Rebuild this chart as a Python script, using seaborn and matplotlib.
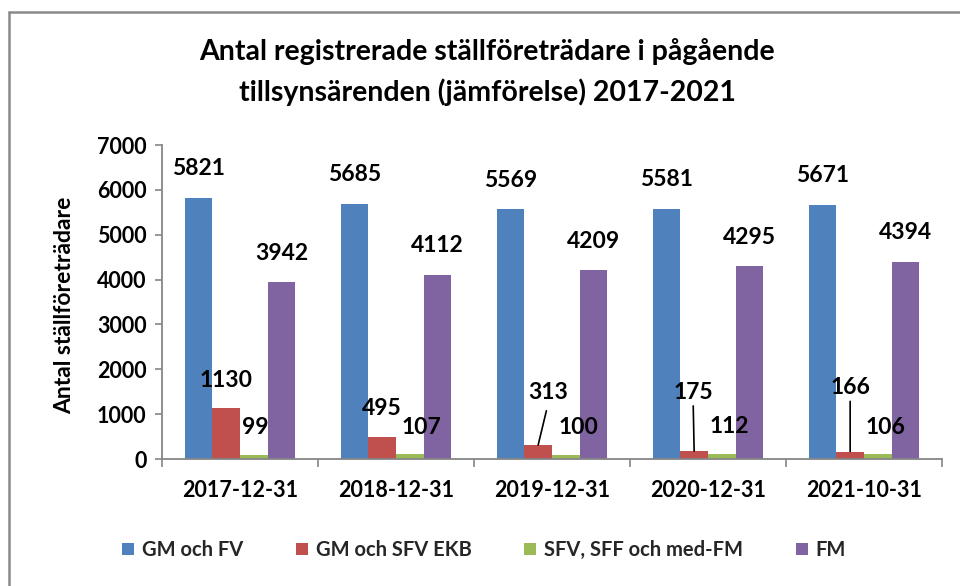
import numpy as np
import pandas as pd
import seaborn as sns
import matplotlib.pyplot as plt
from matplotlib.lines import Line2D
from matplotlib.patches import Patch

# ---- data ----
dates = ["2017-12-31", "2018-12-31", "2019-12-31", "2020-12-31", "2021-10-31"]
series = ["GM och FV", "GM och SFV EKB", "SFV, SFF och med-FM", "FM"]
gm_fv = [5821, 5685, 5569, 5581, 5671]
gm_sfv_ekb = [1130, 495, 313, 175, 166]
sfv_sff_medfm = [99, 107, 100, 112, 106]
fm = [3942, 4112, 4209, 4295, 4394]
yticks = [0, 1000, 2000, 3000, 4000, 5000, 6000, 7000]

title = "Antal registrerade ställföreträdare i pågående\ntillsynsärenden (jämförelse) 2017-2021"
ylabel = "Antal ställföreträdare"

colors = ["#4F81BD", "#C0504D", "#9BBB59", "#8064A2"]

df = pd.DataFrame({
    "Datum": dates * 4,
    "Serie": np.repeat(series, len(dates)),
    "Antal": gm_fv + gm_sfv_ekb + sfv_sff_medfm + fm,
})

# label offsets in pixels (dx, dy) relative to bar-top centre: layout only
default_off = {0: (0, 29), 1: (0, 28), 2: (1, 27), 3: (0, 29)}
special_off = {
    (2, 1): (12, 27), (2, 2): (13, 27), (2, 3): (7, 27), (2, 4): (8, 27),
    (1, 2): (10, 52), (1, 3): (-1, 59), (1, 4): (0, 64),
}
leader = {(1, 2), (1, 3), (1, 4)}

sns.set_theme(style="white")
plt.rcParams["font.family"] = ["Lato", "DejaVu Sans"]
plt.rcParams["font.weight"] = "bold"

fig = plt.figure(figsize=(9.6, 5.86), dpi=100)
ax = fig.add_axes([162 / 960, 1 - 459 / 586, 780 / 960, 314 / 586])

sns.barplot(data=df, x="Datum", y="Antal", hue="Serie", hue_order=series,
            palette=colors, saturation=1, width=0.71, ax=ax, linewidth=0,
            errorbar=None, legend=True)

ax.get_legend().remove()

ax.set_ylim(0, 7000)
ax.set_xlim(-0.5, len(dates) - 0.5)
ax.set_yticks(yticks)
ax.set_yticklabels([str(v) for v in yticks], fontsize=15.5, fontweight="bold")
ax.set_xticks(range(len(dates)))
ax.set_xticklabels(dates, fontsize=15.5, fontweight="bold")
ax.set_xticks(np.arange(-0.5, len(dates), 1.0), minor=True)
ax.tick_params(axis="x", which="major", length=0, pad=15, colors="black")
ax.tick_params(axis="x", which="minor", length=6, width=1.2, color="#868686", direction="out", bottom=True)
ax.tick_params(axis="y", which="major", length=5, width=1.2, color="#868686", direction="out", left=True, pad=6, labelcolor="black")
ax.set_xlabel("")
ax.set_ylabel(ylabel, fontsize=16.5, fontweight="bold", color="black")
ax.yaxis.set_label_coords(-0.112, 0.49)

for side in ["top", "right"]:
    ax.spines[side].set_visible(False)
for side in ["left", "bottom"]:
    ax.spines[side].set_color("#868686")
    ax.spines[side].set_linewidth(1.3)
ax.grid(False)

# data labels
for si, cont in enumerate(ax.containers):
    for gi, bar in enumerate(cont):
        h = bar.get_height()
        xc = bar.get_x() + bar.get_width() / 2
        dx, dy = special_off.get((si, gi), default_off[si])
        kw = {}
        if (si, gi) in leader:
            kw["arrowprops"] = dict(arrowstyle="-", color="black", lw=1.2,
                                    shrinkA=3 if gi == 2 else 0, shrinkB=0,
                                    relpos=(0.5, 0.0))
        ax.annotate(f"{int(h)}", xy=(xc, h), xytext=(dx, dy), textcoords="offset pixels",
                    ha="center", va="center", fontsize=16.5, fontweight="bold",
                    color="black", **kw)

# title
fig.text(487 / 960, 1 - 72 / 586, title, ha="center", va="center", fontsize=20.5,
         fontweight="bold", linespacing=1.55, color="black")

# legend
leg_handles = [Patch(facecolor=c, edgecolor="none") for c in colors]
fig.legend(leg_handles, series, loc="center", bbox_to_anchor=(484 / 960, 1 - 550 / 586),
           ncol=4, frameon=False, handlelength=0.6, handleheight=0.6,
           handletextpad=0.4, columnspacing=2.6, prop={"weight": "bold", "size": 14.5})

# chart border (top and left visible)
fig.add_artist(Line2D([9 / 960, 9 / 960], [0, 1 - 12 / 586], transform=fig.transFigure,
                      color="#8a8a8a", lw=1.8))
fig.add_artist(Line2D([9 / 960, 1], [1 - 12 / 586, 1 - 12 / 586], transform=fig.transFigure,
                      color="#8a8a8a", lw=1.8))

fig.savefig("out.png", dpi=100)
